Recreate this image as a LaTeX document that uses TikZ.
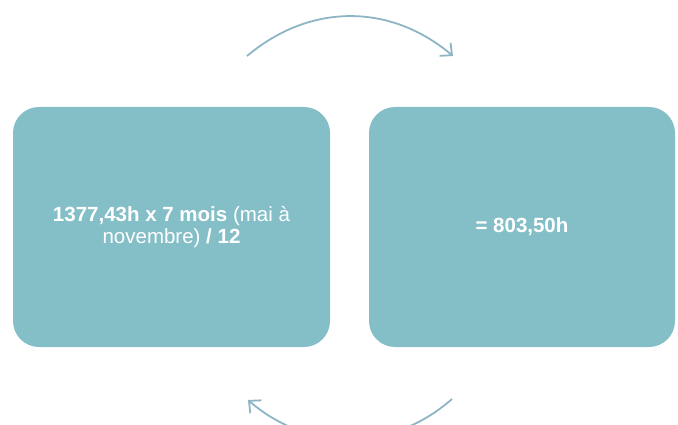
\documentclass[tikz,border=0pt]{standalone}
\usepackage{fontspec}
\setmainfont{Liberation Sans}
\usetikzlibrary{positioning,arrows.meta,calc}
\definecolor{boxteal}{HTML}{84BFC8}
\definecolor{arrowblue}{HTML}{8DB5C4}
\tikzset{
	calcbox/.style={fill=boxteal, rounded corners=26pt, text=white, align=center, font=\fontsize{20.5}{22}\selectfont},
	cyclearrow/.style={arrowblue, line width=1.8pt, -{Straight Barb[length=9pt,width=17pt]}}
}
\begin{document}
\begin{tikzpicture}[x=1pt,y=-1pt]
			\useasboundingbox (0,0) rectangle (678,425);
			\clip (0,0) rectangle (678,425);
			\node[calcbox, minimum width=317pt, minimum height=240pt] (calc) at (171.5,227) {\textbf{1377,43h x 7 mois} (mai à\\novembre) \textbf{/ 12}};
			\node[calcbox, minimum width=306pt, minimum height=240pt] (result) at (522,227) {\textbf{= 803,50h}};
			% fleches du cycle
			\coordinate (topstart) at (247,56);
			\coordinate (topend) at (453,56);
			\draw[cyclearrow] (topstart) .. controls (310,3) and (390,3) .. (topend);
			\coordinate (botstart) at (452,399);
			\coordinate (botend) at (248,400);
			\draw[cyclearrow] (botstart) .. controls (392,452) and (308,452) .. (botend);
	\end{tikzpicture}
\end{document}
